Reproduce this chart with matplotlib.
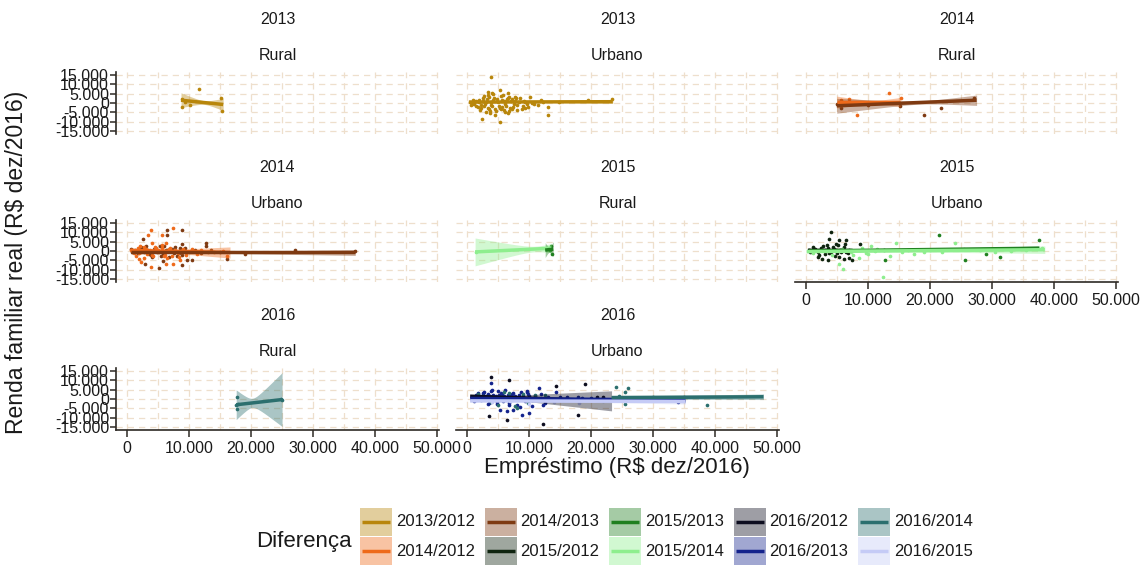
import numpy as np
import matplotlib
matplotlib.use("Agg")
import matplotlib.pyplot as plt
from matplotlib.ticker import FuncFormatter

plt.rcParams['font.family'] = ['Liberation Sans', 'DejaVu Sans']

# ---------------------------------------------------------------- groups
groups = ["2013/2012", "2014/2012", "2014/2013", "2015/2012", "2015/2013",
          "2015/2014", "2016/2012", "2016/2013", "2016/2014", "2016/2015"]
line_colors = ["#B8860B", "#EE6A1A", "#7E3A12", "#0F240F", "#1F7F1F",
               "#8EEE8E", "#0D0D1F", "#14238C", "#2B6F6E", "#C5CBF6"]

# ---------------------------------------------------------------- facets
panel_year = ["2013", "2013", "2014", "2014", "2015", "2015", "2016", "2016"]
panel_zone = ["Rural", "Urbano", "Rural", "Urbano", "Rural", "Urbano", "Rural", "Urbano"]

x_ticks = [0, 10000, 20000, 30000, 40000, 50000]
y_ticks = [-15000, -10000, -5000, 0, 5000, 10000, 15000]

# ---------------------------------------------------------------- points
# 2013 Rural
p0_x = [8800, 8900, 10200, 11600, 15200, 15300, 9300]
p0_y = [2400, -2000, -1100, 7300, 2900, -4100, 600]
p0_g = ["2013/2012"] * 7

# 2013 Urbano
p1_x = [3820, 5320, 3440, 4250, 6670, 6830, 10160, 9350, 13100, 13100, 2370, 5320,
        3760, 6670, 19570, 23440, 500, 800, 1200, 1500, 1900, 2300, 2600, 2900,
        3200, 3500, 3800, 4100, 4400, 4700, 5000, 5300, 5600, 5900, 6200, 6500,
        6800, 7100, 7400, 7700, 8000, 8400, 8800, 9200, 9600, 10500, 11500, 12300,
        14800, 12000, 3000, 4500, 2700, 5800, 7300,
        600, 900, 1100, 1400, 1700, 2000, 2200, 2500, 2800, 3100, 3300, 3600, 3900,
        4200, 4500, 4800, 5100, 5400, 5700, 6000, 6300, 6600, 6900, 7200, 7500, 7800,
        8100, 8600, 9000, 9400, 9800, 10800, 3400, 3700, 4000, 5500, 6100, 2100, 7900]
p1_y = [13900, 6900, 6000, 4800, 5500, 3000, 3400, -2700, -2200, -6700, -8800, -10300,
        -5300, -5300, 1700, 2200, 300, -800, 900, -1500, 400, -2500, 1200, -600,
        2200, -3500, 700, -1800, 2800, -4200, 300, -2600, 1600, -3800, -600, 2200,
        -4500, 900, -2000, 3400, -1200, 500, -3300, 1300, -500, 200, -900, 800,
        300, 1500, -4800, -6200, 3600, 4100, -3000,
        -1200, 1500, -300, 900, -2200, 1800, -900, 2500, -1800, 600, -2900, 3200, -1100,
        1700, -3100, 2400, -1500, 3800, -2200, 1000, -1700, 2900, -2600, 1900, -800, 1200,
        -3900, 2500, -1700, 600, -2200, -600, 4500, -4300, 5400, -3000, -4800, -3800, 2600]
p1_g = ["2013/2012"] * len(p1_x)

# 2014 Rural
p2_x = [13400, 15300, 8170, 7000, 5700, 5200,
        27100, 21700, 19000, 15200, 5700, 5000, 10000]
p2_y = [5500, 2500, -6700, 2000, 1700, -300,
        2900, -2700, -6600, -1800, -2700, -600, -1000]
p2_g = ["2014/2012"] * 6 + ["2014/2013"] * 7

# 2014 Urbano
p3b_x = [6500, 8920, 6500, 2630, 12740, 12740, 27100, 36800, 8920, 9630, 10440, 8920,
         5210, 5790, 16080, 19030, 2850, 600, 7300, 10440, 1500, 2500, 3500, 4500,
         5500, 6500, 7500, 8500, 9500, 11000, 3000, 4000, 6000, 8000,
         800, 1300, 1800, 2300, 2800, 3300, 3800, 4300, 4800, 5300, 5800, 6300, 6800,
         7300, 7800, 8300, 8800, 9300, 10800, 12000, 13500, 15000]
p3b_y = [11500, 11500, 8800, 6200, 4500, 2700, 600, 0, 3900, -4800, -4800, -7800,
         -9000, -5600, -4300, -1700, -6900, 1000, 1000, 300, -500, 1500, -1500, 800,
         -2500, 500, -1200, 1800, -300, 600, 2500, -3000, 2800, -2800,
         -300, 700, -1300, 1900, -800, 300, -2200, 1200, -500, 2600, -1600, 800, -3200,
         400, 2200, -900, -2400, 1400, -200, -1000, 800, -400]
p3o_x = [3870, 7370, 3440, 5590, 3980, 6290, 2100, 11340, 2200, 3820, 6290, 7370,
         1940, 8380, 16080, 5590, 5910, 1000, 2000, 3000, 4000, 5000, 6000, 7000,
         8000, 9000, 12000, 14000, 1500, 4500, 6500, 8500, 2700,
         700, 1200, 1700, 2200, 2700, 3200, 3700, 4200, 4700, 5200, 5700, 6200, 6700,
         7200, 7700, 8200, 9500, 10500, 13000, 15500]
p3o_y = [11500, 12400, 8800, 8800, 4500, 4500, 2700, -1700, -6000, -8700, -6900, -6900,
         -4300, -3400, -2800, 1800, -2500, 300, -1200, 1000, -2000, 500, -800, 1500,
         -400, 900, 600, -300, -2800, 2300, -3800, -5000, -4000,
         600, -900, 1400, -300, 2200, -1700, 500, -2600, 1600, -600, 3300, -1900, 900,
         -2900, 300, -1300, -2200, 1200, -800, 200]
p3_x = p3b_x + p3o_x
p3_y = p3b_y + p3o_y
p3_g = ["2014/2013"] * len(p3b_x) + ["2014/2012"] * len(p3o_x)

# 2015 Rural
p4_x = [1500, 13600, 13700, 13400, 12800]
p4_y = [-500, 2800, -1500, 500, 1200]
p4_g = ["2015/2014", "2015/2013", "2015/2013", "2015/2013", "2015/2014"]

# 2015 Urbano
p5d_x = [3980, 3710, 5320, 6400, 8710, 1980, 2600, 3550, 5320, 6130, 7000, 7470,
         4840, 500, 1000, 1500, 2000, 2500, 3000, 3500, 4000, 4500, 5000, 5500,
         6000, 6500, 7000, 1200, 2800,
         700, 1300, 1900, 2400, 3100, 3700, 4300, 4900, 5600, 6200, 6800, 3300, 5200,
         2100, 4600, 6300]
p5d_y = [10300, 6200, 5700, 5700, 3900, -3400, -4300, -4800, -3400, -4300, -3800, -4800,
         3900, 500, -300, 1200, -800, 700, -1500, 1500, -500, 900, -1200, 400,
         1300, -700, 600, 2200, 2600,
         -600, 900, -200, 1800, 300, -1200, 2000, 600, -400, 2400, -1000, 3100, 3000,
         -2100, -2500, 3600]
p5f_x = [21500, 37630, 12740, 12640, 29000, 25650, 31300]
p5f_y = [8500, 6000, -4800, 400, -1700, -4600, -3400]
p5l_x = [6020, 12370, 14520, 24030, 10050, 11100, 17400, 5320, 8500, 9000, 15500,
         20000, 28000, 33000, 38000, 7500, 10500,
         1200, 2600, 4200, 5800, 7200, 9600, 11500, 13500, 16500, 19000, 22000, 25500,
         30500, 35500]
p5l_y = [-9600, -14000, 4500, 4500, -1700, 0, -1700, -7000, -3800, 1500, -500,
         300, 800, -200, 1800, -2000, 2500,
         -1000, 300, -2200, 900, -500, -1200, 1000, -2500, 600, -300, -800, 1200,
         -400, 600]
p5_x = p5d_x + p5f_x + p5l_x
p5_y = p5d_y + p5f_y + p5l_y
p5_g = ["2015/2012"] * len(p5d_x) + ["2015/2013"] * len(p5f_x) + ["2015/2014"] * len(p5l_x)

# 2016 Rural
p6_x = [17700, 17700, 17600, 17900, 25000, 24800]
p6_y = [1000, -5300, -3500, -2500, -300, 200]
p6_g = ["2016/2014"] * 6

# 2016 Urbano
p7k_x = [3820, 6830, 3600, 6500, 12300, 19030, 14350, 22000, 20900, 17950]
p7k_y = [12100, 10300, -9400, -11200, -13200, 8000, 7100, 1000, 1300, -8700]
p7n_x = [3820, 8820, 10050, 11660, 9630, 2630, 4000, 5000, 7450, 9600, 16080, 17900,
         12300, 12600, 4900, 6700, 8500, 3600, 10500, 5300, 6400, 7400, 14350, 34000,
         1000, 1500, 2000, 2500, 3000, 3300, 3700, 4200, 4600, 5200, 5600, 6000,
         6600, 7000, 7800, 8300, 9000, 10000, 11000, 13000, 15000, 18500, 20000,
         1200, 1800, 2200, 2800, 3400, 3900, 4400, 4800, 5400, 5800, 6200, 6800,
         7200, 7600, 8100, 8700, 9300, 9800, 10400, 12000]
p7n_y = [8500, -8700, -7650, 5660, 3900, 3300, 5000, 4500, 3000, 4400, 1000, 1300,
         -3500, -2200, -2700, -3300, -4500, -2000, -3800, -6000, -6700, -6000, 3900, -1500,
         800, 2000, 1200, 2200, 1500, 2600, 1800, 2300, 1400, 2000, 2700, 1500,
         2300, 1800, 1600, 2100, 1400, 1800, 1500, 1200, 900, 800, 500,
         -1200, 3000, -500, 3600, -2800, 4200, 600, -1500, 3300, -900, 4800, -2300,
         2900, 600, -3200, 3600, -1100, 2600, -600, 2700]
p7t_x = [6800, 8000, 9000, 11000, 2500, 5000, 24030, 26000, 25400, 25400, 38660,
         24500, 30000, 35000, 1800, 3800, 6000, 7700, 9800, 12500]
p7t_y = [3500, -5000, 2500, 2000, 1500, -3000, 6700, 5700, 3900, -2700, -3100,
         1500, 1200, 1000, 2600, -1800, 3700, -4000, -2200, 2200]
p7l_x = [1500, 4000, 7000, 10000, 14000, 18000, 22000]
p7l_y = [-600, -1500, -900, -2500, -1800, -2000, -1000]
p7_x = p7k_x + p7n_x + p7t_x + p7l_x
p7_y = p7k_y + p7n_y + p7t_y + p7l_y
p7_g = (["2016/2012"] * len(p7k_x) + ["2016/2013"] * len(p7n_x)
        + ["2016/2014"] * len(p7t_x) + ["2016/2015"] * len(p7l_x))

points_x = [p0_x, p1_x, p2_x, p3_x, p4_x, p5_x, p6_x, p7_x]
points_y = [p0_y, p1_y, p2_y, p3_y, p4_y, p5_y, p6_y, p7_y]
points_g = [p0_g, p1_g, p2_g, p3_g, p4_g, p5_g, p6_g, p7_g]

# ---------------------------------------------------------------- linear fits
# panel index, group, line end points and half-width of the 95% band
fit_panel = [0, 1, 2, 2, 3, 3, 4, 4, 5, 5, 5, 6, 7, 7, 7, 7]
fit_group = ["2013/2012", "2013/2012", "2014/2012", "2014/2013", "2014/2012", "2014/2013",
             "2015/2014", "2015/2013", "2015/2012", "2015/2013", "2015/2014",
             "2016/2014", "2016/2012", "2016/2013", "2016/2014", "2016/2015"]
fit_x0 = [8700, 300, 4950, 4950, 600, 600, 1300, 12600, 300, 500, 100,
          17600, 500, 500, 23300, 500]
fit_x1 = [15500, 23500, 15200, 27500, 16600, 36800, 13600, 13900, 7500, 37600, 38500,
          25000, 23300, 35200, 47800, 35200]
fit_y0 = [1500, 500, 500, -1500, 300, -800, -500, 500, 400, 0, -300,
          -3100, 1500, 300, 700, -1000]
fit_y1 = [-800, 700, 500, 1500, -800, -800, 1500, 1000, 300, 1500, 700,
          -300, -1000, -500, 1200, -1300]
fit_hw0 = [4000, 600, 3200, 4000, 700, 500, 7500, 4000, 900, 600, 700,
           8000, 800, 700, 1400, 600]
fit_hwm = [1000, 250, 900, 900, 400, 250, 1500, 1500, 500, 300, 400,
           2500, 500, 400, 1200, 400]
fit_hw1 = [3300, 900, 2500, 2800, 3000, 1600, 2500, 4000, 900, 1200, 2000,
           14500, 5400, 1500, 1500, 1400]

# ---------------------------------------------------------------- layout (pixels)
W, H = 1144, 568
col_left = [116, 456, 795]
row_top = [72, 220, 368]
pw, ph = 323, 62
XLIM = (-1780, 50300)
YLIM = (-16700, 16700)

grid_col = "#EEDFCC"
axis_col = "#2E2A25"
text_col = "#1A1A1A"
band_alpha = 0.4


def band_halfwidth(xs, x0, x1, h0, hm, h1):
    a0 = max(h0 ** 2 - hm ** 2, 0.0)
    a1 = max(h1 ** 2 - hm ** 2, 0.0)
    if a0 + a1 == 0:
        return np.full_like(xs, hm)
    r = np.sqrt(a0 / a1) if a1 > 0 else 1e9
    xc = (x0 + r * x1) / (1 + r)
    if a1 > 0:
        c = a1 / (x1 - xc) ** 2
    else:
        c = a0 / (xc - x0) ** 2
    return np.sqrt(hm ** 2 + c * (xs - xc) ** 2)


thousands = FuncFormatter(lambda v, p: f"{int(v):,}".replace(",", "."))

fig = plt.figure(figsize=(W / 100, H / 100), dpi=100)
color_of = dict(zip(groups, line_colors))

for k in range(8):
    r, c = divmod(k, 3)
    ax = fig.add_axes([col_left[c] / W, 1 - (row_top[r] + ph) / H, pw / W, ph / H])
    ax.set_xlim(*XLIM)
    ax.set_ylim(*YLIM)
    ax.set_facecolor("white")
    for s in ax.spines.values():
        s.set_visible(False)
    # dashed grid
    ax.set_xticks(x_ticks)
    ax.set_xticks([5000, 15000, 25000, 35000, 45000], minor=True)
    ax.set_yticks(y_ticks)
    ax.grid(True, which="both", color=grid_col, linestyle=(0, (5, 4)), linewidth=0.9)
    ax.set_axisbelow(True)

    # points
    for x, y, g in zip(points_x[k], points_y[k], points_g[k]):
        ax.scatter(x, y, s=7, color=color_of[g], linewidths=0, zorder=2)

    # smooths
    for i in range(len(fit_panel)):
        if fit_panel[i] != k:
            continue
        g = fit_group[i]
        xs = np.linspace(fit_x0[i], fit_x1[i], 80)
        yl = fit_y0[i] + (fit_y1[i] - fit_y0[i]) * (xs - fit_x0[i]) / (fit_x1[i] - fit_x0[i])
        hw = band_halfwidth(xs, fit_x0[i], fit_x1[i], fit_hw0[i], fit_hwm[i], fit_hw1[i])
        ax.fill_between(xs, yl - hw, yl + hw, color=color_of[g], alpha=band_alpha,
                        linewidth=0, zorder=3)
        ax.plot(xs, yl, color=color_of[g], linewidth=2.5, zorder=4,
                solid_capstyle="butt")

    show_y = (c == 0)
    show_x = (k >= 5)
    ax.tick_params(which="both", length=0, labelleft=False, labelbottom=False)
    if show_y:
        ax.spines["left"].set_visible(True)
        ax.spines["left"].set_color(axis_col)
        ax.spines["left"].set_linewidth(1.2)
        ax.tick_params(axis="y", which="major", length=4, width=1.1, color=axis_col,
                       labelleft=True, labelsize=11.5, pad=1, labelcolor=text_col)
        ax.yaxis.set_major_formatter(thousands)
    if show_x:
        ax.spines["bottom"].set_visible(True)
        ax.spines["bottom"].set_color(axis_col)
        ax.spines["bottom"].set_linewidth(1.2)
        ax.tick_params(axis="x", which="major", length=5, width=1.1, color=axis_col,
                       labelbottom=True, labelsize=11.5, pad=3, labelcolor=text_col)
        ax.xaxis.set_major_formatter(thousands)

    # facet strips
    cx = (col_left[c] + pw / 2) / W
    fig.text(cx, 1 - (row_top[r] - 52) / H, panel_year[k], ha="center", va="center",
             fontsize=11.5, color=text_col)
    fig.text(cx, 1 - (row_top[r] - 17) / H, panel_zone[k], ha="center", va="center",
             fontsize=11.5, color=text_col)

# axis titles
fig.text((col_left[0] + col_left[2] + pw) / 2 / W, 1 - 468 / H, "Empréstimo (R$ dez/2016)",
         ha="center", va="center", fontsize=16, color=text_col)
fig.text(17 / W, 1 - 262 / H, "Renda familiar real (R$ dez/2016)", ha="center",
         va="center", rotation=90, fontsize=16.5, color=text_col)

# legend
lax = fig.add_axes([0, 0, 1, 1])
lax.set_xlim(0, W)
lax.set_ylim(H, 0)
lax.axis("off")
lax.text(304, 541, "Diferença", ha="center", va="center", fontsize=16, color=text_col)
key_w, key_h = 32, 28
for i, g in enumerate(groups):
    col, row = divmod(i, 2)
    kx = 360 + 124.5 * col
    ky = 508 + (key_h + 1) * row
    lax.add_patch(plt.Rectangle((kx, ky), key_w, key_h, facecolor=color_of[g],
                                alpha=band_alpha, linewidth=0))
    lax.plot([kx + 2, kx + key_w - 2], [ky + key_h / 2] * 2, color=color_of[g],
             linewidth=2.5, solid_capstyle="butt")
    lax.text(kx + key_w + 4, ky + key_h / 2, g, ha="left", va="center", fontsize=12,
             color=text_col)

fig.savefig("out.png", dpi=100, facecolor="white")
